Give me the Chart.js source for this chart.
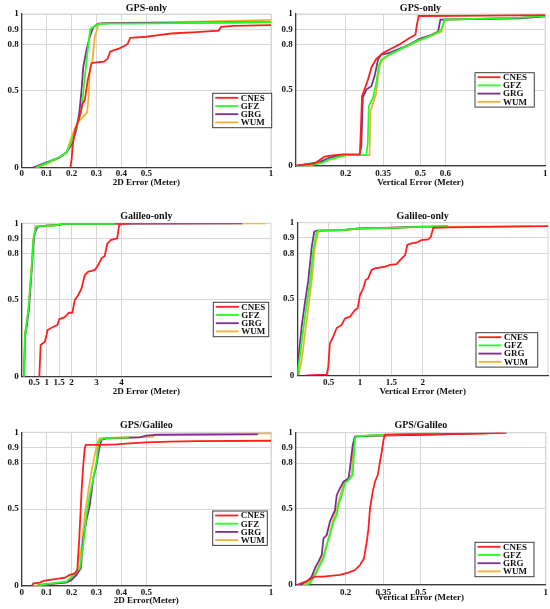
<!DOCTYPE html>
<html>
<head>
<meta charset="utf-8">
<title>CDF of positioning errors</title>
<script src="https://cdn.jsdelivr.net/npm/chart.js@4.4.1/dist/chart.umd.min.js"></script>
<style>
  body { margin: 0; background: #fff; }
  .panel { position: absolute; }
</style>
</head>
<body>
<canvas id="c1" class="panel" style="left:0px;top:0px" width="275" height="200"></canvas>
<canvas id="c2" class="panel" style="left:275px;top:0px" width="275" height="200"></canvas>
<canvas id="c3" class="panel" style="left:0px;top:200px" width="275" height="205"></canvas>
<canvas id="c4" class="panel" style="left:275px;top:200px" width="275" height="205"></canvas>
<canvas id="c5" class="panel" style="left:0px;top:405px" width="275" height="204"></canvas>
<canvas id="c6" class="panel" style="left:275px;top:405px" width="275" height="204"></canvas>
<script>
// analysis centres, one line each
const seriesNames = ['CNES', 'GFZ', 'GRG', 'WUM'];

// y axis is the cumulative fraction
const yTicks = [0, 0.5, 0.8, 0.9, 1];
const yTickLabels = ['0', '0.5', '0.8', '0.9', '1'];

// x tick sets
const ticksSmall = [0, 0.1, 0.2, 0.3, 0.4, 0.5, 1];
const ticksSmallLabels = ['0', '0.1', '0.2', '0.3', '0.4', '0.5', '1'];
const ticksVert = [0.2, 0.35, 0.5, 0.6, 1];
const ticksVertLabels = ['0.2', '0.35', '0.5', '0.6', '1'];
const ticksVertComb = [0.2, 0.35, 0.5, 1];
const ticksVertCombLabels = ['0.2', '0.35', '0.5', '1'];
const ticksGal2d = [0.5, 1, 1.5, 2, 3, 4];
const ticksGal2dLabels = ['0.5', '1', '1.5', '2', '3', '4'];
const ticksGalVert = [0.5, 1, 1.5, 2];
const ticksGalVertLabels = ['0.5', '1', '1.5', '2'];

// GPS-only, 2D error [m, fraction]
const gps2dCNES = [[0.195,0],[0.2,0.05],[0.205,0.15],[0.215,0.25],[0.23,0.32],[0.245,0.42],[0.253,0.44],[0.265,0.57],[0.273,0.625],[0.28,0.68],[0.3,0.685],[0.33,0.69],[0.345,0.71],[0.355,0.755],[0.37,0.765],[0.39,0.775],[0.41,0.79],[0.425,0.805],[0.435,0.845],[0.5,0.852],[0.55,0.862],[0.6,0.873],[0.7,0.882],[0.79,0.892],[0.8,0.916],[0.85,0.923],[1,0.928]];
const gps2dGFZ = [[0.055,0],[0.1,0.03],[0.15,0.068],[0.18,0.1],[0.2,0.17],[0.215,0.24],[0.228,0.3],[0.24,0.375],[0.253,0.59],[0.262,0.72],[0.27,0.84],[0.276,0.905],[0.29,0.918],[0.31,0.935],[0.35,0.937],[0.45,0.938],[0.7,0.942],[1,0.948]];
const gps2dGRG = [[0.045,0],[0.1,0.035],[0.15,0.065],[0.18,0.1],[0.2,0.15],[0.22,0.25],[0.232,0.37],[0.24,0.505],[0.247,0.657],[0.26,0.766],[0.273,0.85],[0.287,0.915],[0.307,0.937],[0.35,0.94],[0.6,0.942],[1,0.948]];
const gps2dWUM = [[0.06,0],[0.1,0.025],[0.15,0.065],[0.18,0.1],[0.2,0.2],[0.213,0.256],[0.233,0.31],[0.262,0.358],[0.268,0.45],[0.273,0.636],[0.284,0.7],[0.293,0.85],[0.307,0.928],[0.32,0.939],[0.5,0.945],[0.75,0.952],[1,0.962]];

// GPS-only, vertical error
const gpsVCNES = [[0,0],[0.077,0.018],[0.116,0.061],[0.149,0.07],[0.19,0.077],[0.256,0.077],[0.258,0.1],[0.266,0.46],[0.275,0.5],[0.29,0.57],[0.303,0.645],[0.323,0.705],[0.35,0.744],[0.376,0.766],[0.416,0.8],[0.456,0.842],[0.48,0.864],[0.486,0.93],[0.493,0.987],[0.65,0.988],[1,0.992]];
const gpsVGFZ = [[0,0],[0.06,0.005],[0.109,0.022],[0.136,0.044],[0.176,0.061],[0.203,0.072],[0.283,0.072],[0.289,0.153],[0.293,0.394],[0.31,0.449],[0.323,0.547],[0.333,0.656],[0.343,0.7],[0.376,0.733],[0.43,0.777],[0.462,0.8],[0.483,0.82],[0.536,0.853],[0.571,0.882],[0.583,0.895],[0.597,0.963],[0.9,0.976],[1,0.987]];
const gpsVGRG = [[0,0],[0.096,0.026],[0.136,0.055],[0.183,0.072],[0.256,0.072],[0.263,0.13],[0.269,0.449],[0.283,0.503],[0.303,0.525],[0.316,0.59],[0.33,0.7],[0.343,0.733],[0.376,0.744],[0.43,0.78],[0.469,0.81],[0.496,0.836],[0.54,0.86],[0.571,0.885],[0.58,0.963],[0.9,0.972],[1,0.985]];
const gpsVWUM = [[0,0],[0.1,0.02],[0.14,0.045],[0.18,0.062],[0.205,0.072],[0.296,0.072],[0.3,0.36],[0.323,0.48],[0.33,0.59],[0.339,0.674],[0.35,0.7],[0.376,0.733],[0.43,0.777],[0.462,0.8],[0.5,0.83],[0.54,0.855],[0.585,0.885],[0.597,0.963],[0.9,0.975],[1,0.987]];

// Galileo-only, 2D error
const gal2dCNES = [[0.707,0],[0.76,0.207],[0.93,0.228],[1.04,0.304],[1.27,0.326],[1.43,0.337],[1.51,0.376],[1.69,0.385],[1.8,0.4],[1.89,0.417],[2.03,0.417],[2.13,0.5],[2.27,0.533],[2.4,0.576],[2.53,0.663],[2.67,0.685],[2.8,0.69],[2.93,0.696],[3.07,0.728],[3.2,0.772],[3.33,0.787],[3.43,0.865],[3.57,0.891],[3.83,0.902],[3.91,0.989],[4.07,0.996],[4.33,1]];
const gal2dGFZ = [[0.093,0],[0.133,0.283],[0.17,0.315],[0.27,0.435],[0.4,0.717],[0.467,0.89],[0.533,0.946],[0.573,0.978],[0.867,0.983],[1.47,0.989],[1.67,0.996],[3.73,0.997]];
const gal2dGRG = [[0.093,0],[0.14,0.283],[0.2,0.326],[0.29,0.44],[0.41,0.717],[0.48,0.89],[0.52,0.93],[0.6,0.967],[0.65,0.978],[0.867,0.983],[1.47,0.989],[1.67,0.996],[8.85,1]];
const gal2dWUM = [[0.09,0],[0.13,0.283],[0.165,0.315],[0.265,0.435],[0.395,0.717],[0.46,0.89],[0.52,0.946],[0.56,0.978],[0.867,0.983],[1.47,0.989],[1.67,0.996],[9.8,1]];

// Galileo-only, vertical error
const galVCNES = [[0.15,0],[0.47,0.005],[0.495,0.057],[0.52,0.21],[0.574,0.253],[0.628,0.31],[0.707,0.33],[0.76,0.373],[0.84,0.384],[0.92,0.428],[0.963,0.439],[1,0.526],[1.053,0.57],[1.09,0.624],[1.13,0.635],[1.186,0.69],[1.24,0.7],[1.4,0.712],[1.48,0.723],[1.585,0.729],[1.64,0.755],[1.72,0.788],[1.755,0.854],[1.82,0.865],[1.9,0.869],[1.98,0.886],[2.09,0.89],[2.13,0.908],[2.17,0.967],[2.41,0.97],[4,0.978]];
const galVGFZ = [[0,0],[0.04,0.12],[0.12,0.38],[0.2,0.6],[0.255,0.82],[0.31,0.94],[0.35,0.948],[0.71,0.952],[1,0.962],[1.5,0.966],[2,0.972],[2.4,0.973]];
const galVGRG = [[0,0],[0.016,0.1],[0.07,0.32],[0.12,0.47],[0.175,0.62],[0.23,0.84],[0.27,0.94],[0.31,0.948],[0.71,0.952],[1,0.963],[1.5,0.967],[1.98,0.974],[2.4,0.975]];
const galVWUM = [[0.02,0],[0.07,0.1],[0.15,0.36],[0.23,0.62],[0.28,0.84],[0.335,0.94],[0.4,0.948],[0.71,0.952],[1,0.962],[1.5,0.966],[2,0.972],[3.74,0.978]];

// GPS/Galileo, 2D error
const comb2dCNES = [[0.04,0],[0.047,0.017],[0.073,0.022],[0.087,0.033],[0.127,0.043],[0.173,0.054],[0.193,0.072],[0.213,0.082],[0.223,0.104],[0.231,0.31],[0.24,0.614],[0.247,0.787],[0.253,0.896],[0.257,0.918],[0.313,0.918],[0.38,0.922],[0.433,0.928],[0.5,0.935],[0.593,0.939],[0.7,0.943],[1,0.945]];
const comb2dGFZ = [[0.06,0],[0.087,0.01],[0.18,0.028],[0.207,0.072],[0.233,0.115],[0.247,0.267],[0.26,0.462],[0.273,0.592],[0.287,0.7],[0.3,0.81],[0.309,0.939],[0.327,0.961],[0.43,0.967]];
const comb2dGRG = [[0.06,0],[0.073,0.007],[0.18,0.024],[0.2,0.039],[0.22,0.072],[0.237,0.115],[0.247,0.31],[0.26,0.43],[0.273,0.527],[0.287,0.7],[0.3,0.787],[0.311,0.896],[0.32,0.95],[0.34,0.961],[0.473,0.967],[0.5,0.978],[0.54,0.983],[0.947,0.987]];
const comb2dWUM = [[0.047,0],[0.1,0.01],[0.18,0.022],[0.22,0.082],[0.24,0.245],[0.253,0.462],[0.267,0.614],[0.28,0.744],[0.293,0.852],[0.303,0.928],[0.313,0.961],[0.393,0.967],[0.527,0.97],[0.533,0.987],[1,0.993]];

// GPS/Galileo, vertical error
const combVCNES = [[0.004,0],[0.044,0.026],[0.077,0.055],[0.111,0.055],[0.177,0.066],[0.211,0.081],[0.237,0.098],[0.257,0.131],[0.273,0.175],[0.284,0.284],[0.291,0.372],[0.297,0.503],[0.308,0.613],[0.317,0.678],[0.328,0.722],[0.337,0.81],[0.344,0.875],[0.351,0.952],[0.357,0.988],[0.564,0.99],[0.764,0.995],[0.844,1]];
const combVGFZ = [[0.04,0],[0.057,0.011],[0.077,0.066],[0.097,0.131],[0.111,0.175],[0.124,0.263],[0.137,0.328],[0.151,0.416],[0.164,0.46],[0.171,0.525],[0.184,0.59],[0.197,0.667],[0.211,0.689],[0.228,0.722],[0.237,0.963],[0.244,0.978],[0.35,0.985],[0.577,1]];
const combVGRG = [[0.01,0],[0.044,0.022],[0.064,0.055],[0.077,0.11],[0.091,0.153],[0.104,0.197],[0.111,0.306],[0.124,0.328],[0.137,0.416],[0.151,0.47],[0.157,0.49],[0.164,0.59],[0.177,0.635],[0.191,0.678],[0.211,0.7],[0.217,0.766],[0.228,0.919],[0.237,0.974],[0.297,0.98],[0.56,0.988],[0.84,1]];
const combVWUM = [[0.03,0],[0.05,0.011],[0.071,0.055],[0.091,0.12],[0.111,0.197],[0.131,0.306],[0.151,0.437],[0.164,0.503],[0.177,0.58],[0.191,0.656],[0.204,0.689],[0.224,0.722],[0.233,0.963],[0.244,0.978],[0.4,0.985],[0.764,0.995]];

// styling
const lineColors = ['#ff1f1f', '#22ff22', '#7e2f8e', '#f2b134'];
const fontFamily = "'Liberation Serif', 'Times New Roman', serif";
const textColor = '#111';
const gridColor = '#d6d6d6';
const axisColor = '#3c3c3c';
const tickFont = { family: fontFamily, size: 9, weight: 'bold' };

// light box round the plot area (matlab "box on")
const boxFrame = {
  id: 'boxFrame',
  beforeDraw(chart) {
    const { ctx, chartArea: a } = chart;
    ctx.save();
    ctx.strokeStyle = gridColor;
    ctx.lineWidth = 1;
    ctx.strokeRect(a.left, a.top, a.right - a.left, a.bottom - a.top);
    ctx.restore();
  }
};

// legend drawn inside the axes, like matlab's
const boxLegend = {
  id: 'boxLegend',
  afterDatasetsDraw(chart, args, opts) {
    const ctx = chart.ctx;
    const [x, y, w] = opts.box;
    const h = 34.4;
    ctx.save();
    ctx.fillStyle = '#fff';
    ctx.fillRect(x, y, w, h);
    ctx.strokeStyle = axisColor;
    ctx.lineWidth = 1;
    ctx.strokeRect(x, y, w, h);
    ctx.font = 'bold 9px ' + fontFamily;
    ctx.textBaseline = 'middle';
    chart.data.datasets.forEach((ds, i) => {
      const cy = y + 4.5 + i * 8.2;
      ctx.strokeStyle = ds.borderColor;
      ctx.lineWidth = 1.8;
      ctx.beginPath();
      ctx.moveTo(x + 2.5, cy);
      ctx.lineTo(x + 25.5, cy);
      ctx.stroke();
      ctx.fillStyle = textColor;
      ctx.fillText(ds.label, x + 28, cy + 0.5);
    });
    ctx.restore();
  }
};

function makeChart(id, series, xTicks, xLabels, xMax, title, xTitle, lay) {
  return new Chart(document.getElementById(id), {
    type: 'line',
    data: {
      datasets: series.map((pts, i) => ({
        label: seriesNames[i],
        data: pts.map(p => ({ x: p[0], y: p[1] })),
        borderColor: lineColors[i],
        borderWidth: 1.8,
        pointRadius: 0,
        tension: 0,
        fill: false
      }))
    },
    options: {
      responsive: false,
      animation: false,
      events: [],
      layout: { padding: { left: 0, right: lay.padR, top: 0, bottom: 0 } },
      scales: {
        x: {
          type: 'linear',
          min: 0,
          max: xMax,
          afterBuildTicks: ax => { ax.ticks = xTicks.map(v => ({ value: v })); },
          afterFit: ax => { ax.height = lay.xh; },
          ticks: {
            autoSkip: false, maxRotation: 0, padding: lay.tickPad,
            color: textColor, font: tickFont,
            callback: (v, i) => xLabels[i]
          },
          grid: { color: gridColor, drawTicks: false },
          border: { color: axisColor, width: 1.3 },
          title: {
            display: true, text: xTitle, color: textColor, font: tickFont,
            padding: { top: 0, bottom: lay.xTitlePad }
          }
        },
        y: {
          type: 'linear',
          min: 0,
          max: 1,
          afterBuildTicks: ax => { ax.ticks = yTicks.map(v => ({ value: v })); },
          afterFit: ax => { ax.width = lay.yw; },
          ticks: {
            autoSkip: false, padding: 3,
            color: textColor, font: tickFont,
            callback: (v, i) => yTickLabels[i]
          },
          grid: { color: gridColor, drawTicks: false },
          border: { color: axisColor, width: 1.3 }
        }
      },
      plugins: {
        legend: { display: false },
        tooltip: { enabled: false },
        title: {
          display: true, text: title, fullSize: false, color: textColor,
          font: { family: fontFamily, size: 10, weight: 'bold' },
          padding: { top: lay.tTop, bottom: lay.tBot }
        },
        boxLegend: { box: lay.legend }
      }
    },
    plugins: [boxFrame, boxLegend]
  });
}

makeChart('c1', [gps2dCNES, gps2dGFZ, gps2dGRG, gps2dWUM], ticksSmall, ticksSmallLabels, 1,
  'GPS-only', '2D Error (Meter)',
  { padR: 4, yw: 21.7, xh: 32.3, tickPad: 0.2, xTitlePad: 11.9, tTop: 2, tBot: 0, legend: [212.7, 93.3, 59] });

makeChart('c2', [gpsVCNES, gpsVGFZ, gpsVGRG, gpsVWUM], ticksVert, ticksVertLabels, 1,
  'GPS-only', 'Vertical Error (Meter)',
  { padR: 4, yw: 20.7, xh: 34, tickPad: 2.6, xTitlePad: 11.9, tTop: 2, tBot: 0, legend: [200, 72.7, 59.3] });

makeChart('c3', [gal2dCNES, gal2dGFZ, gal2dGRG, gal2dWUM], ticksGal2d, ticksGal2dLabels, 10,
  'Galileo-only', '2D Error (Meter)',
  { padR: 4, yw: 21.7, xh: 28.3, tickPad: 0.6, xTitlePad: 7.9, tTop: 10.7, tBot: 0.6, legend: [213.3, 102.3, 55.4] });

makeChart('c4', [galVCNES, galVGFZ, galVGRG, galVWUM], ticksGalVert, ticksGalVertLabels, 4,
  'Galileo-only', 'Vertical Error (Meter)',
  { padR: 2, yw: 22.3, xh: 29.7, tickPad: 2.0, xTitlePad: 7.9, tTop: 10.7, tBot: 0, legend: [201, 132.7, 61.7] });

makeChart('c5', [comb2dCNES, comb2dGFZ, comb2dGRG, comb2dWUM], ticksSmall, ticksSmallLabels, 1,
  'GPS/Galileo', '2D Error(Meter)',
  { padR: 4, yw: 21.7, xh: 23, tickPad: 0.9, xTitlePad: 2.9, tTop: 14.7, tBot: 0.6, legend: [212.7, 106, 54.6] });

makeChart('c6', [combVCNES, combVGFZ, combVGRG, combVWUM], ticksVertComb, ticksVertCombLabels, 1,
  'GPS/Galileo', 'Vertical Error (Meter)',
  { padR: 4, yw: 20.7, xh: 24, tickPad: 1.9, xTitlePad: 5.9, tTop: 14.7, tBot: 1, legend: [200, 137.3, 59] });
</script>
</body>
</html>
